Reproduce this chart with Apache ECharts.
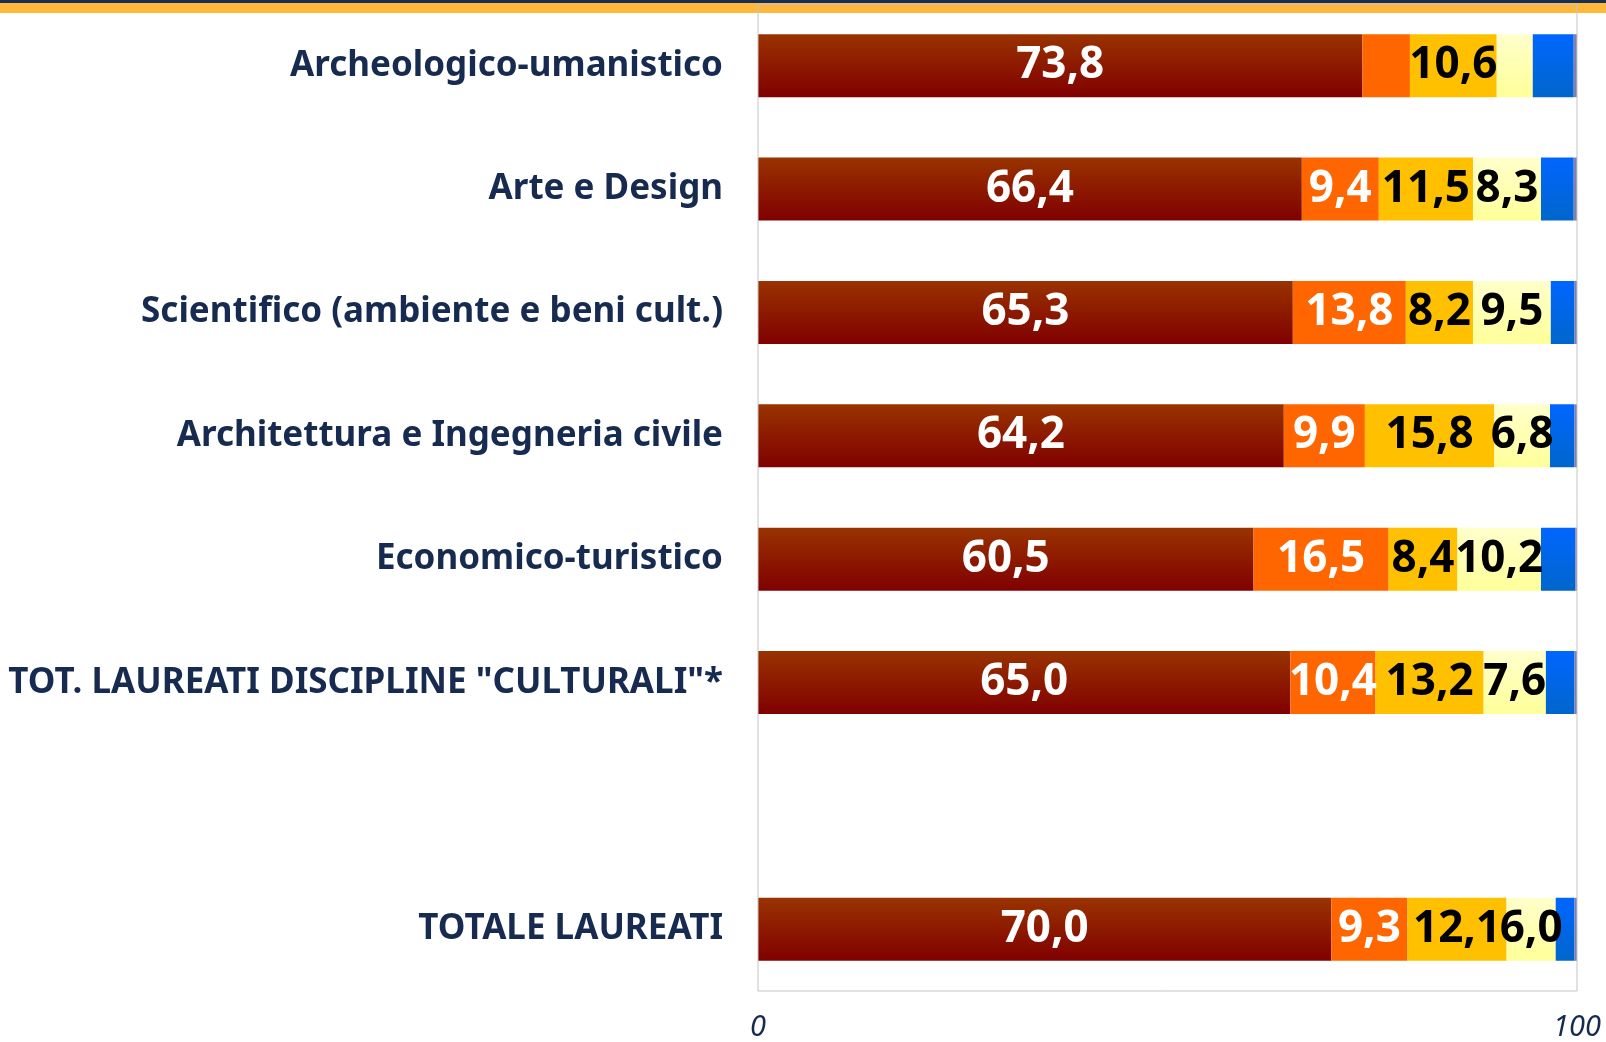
<!DOCTYPE html>
<html>
<head>
<meta charset="utf-8">
<script src="https://cdn.jsdelivr.net/npm/echarts@6/dist/echarts.min.js"></script>
<style>
html,body{margin:0;padding:0;background:#fff;}
#chart{width:1606px;height:1042px;}
</style>
</head>
<body>
<div id="chart"></div>
<script>
var categories = ['Archeologico-umanistico', 'Arte e Design', 'Scientifico (ambiente e beni cult.)',
	'Architettura e Ingegneria civile', 'Economico-turistico', 'TOT. LAUREATI DISCIPLINE "CULTURALI"*',
	'', 'TOTALE LAUREATI'];
var serie_1 = [73.8, 66.4, 65.3, 64.2, 60.5, 65.0, null, 70.0];
var serie_2 = [5.8, 9.4, 13.8, 9.9, 16.5, 10.4, null, 9.3];
var serie_3 = [10.6, 11.5, 8.2, 15.8, 8.4, 13.2, null, 12.1];
var serie_4 = [4.4, 8.3, 9.5, 6.8, 10.2, 7.6, null, 6.0];
var serie_5 = [5.0, 4.0, 2.9, 3.0, 4.2, 3.5, null, 2.3];
var serie_6 = [0.4, 0.4, 0.3, 0.3, 0.2, 0.3, null, 0.3];
var xTicks = [0, 100];

var fontFam = '"Noto Sans", "DejaVu Sans", sans-serif';
var navy = '#172a4f';

function grad(c1, c2) {
	return new echarts.graphic.LinearGradient(0, 0, 0, 1, [
		{offset: 0, color: c1},
		{offset: 1, color: c2}
	]);
}

// in Excel le etichette piccole non compaiono
function labelFmt(p) {
	if (p.value == null || p.value < 6) return '';
	return p.value.toFixed(1).replace('.', ',');
}

function makeSerie(name, data, color, txtColor, showLabel) {
	return {
		name: name,
		type: 'bar',
		stack: 'tot',
		barWidth: 63,
		data: data,
		itemStyle: {color: color},
		label: {
			show: showLabel,
			position: 'inside',
			formatter: labelFmt,
			color: txtColor,
			fontFamily: fontFam,
			fontWeight: 'bold',
			fontSize: 44
		},
		emphasis: {disabled: true}
	};
}

var dom = document.getElementById('chart');
var myChart = echarts.init(dom);
var option = {
	backgroundColor: '#fff',
	animation: false,
	graphic: [
		{type: 'rect', shape: {x: 0, y: 0, width: 1606, height: 3}, style: {fill: '#1a2e50'}, z: 0},
		{type: 'rect', shape: {x: 0, y: 3, width: 1606, height: 10}, style: {fill: '#ffb83c'}, z: 0}
	],
	grid: {
		left: 758,
		right: 29,
		top: 4,
		bottom: 43,
		show: true,
		borderColor: '#c4c4c4',
		borderWidth: 1,
		backgroundColor: 'transparent',
		z: 5
	},
	xAxis: {
		type: 'value',
		min: xTicks[0],
		max: xTicks[1],
		interval: 100,
		axisLine: {show: false},
		axisTick: {show: false},
		splitLine: {show: false},
		axisLabel: {
			color: navy,
			fontFamily: fontFam,
			fontStyle: 'italic',
			fontSize: 29,
			margin: 22
		}
	},
	yAxis: {
		type: 'category',
		inverse: true,
		data: categories,
		axisLine: {show: false},
		axisTick: {show: false},
		axisLabel: {
			color: navy,
			fontFamily: fontFam,
			fontWeight: 'bold',
			fontSize: 35,
			margin: 35
		}
	},
	series: [
		makeSerie('serie 1', serie_1, grad('#993300', '#800000'), '#fff', true),
		makeSerie('serie 2', serie_2, '#ff6600', '#fff', true),
		makeSerie('serie 3', serie_3, '#ffc000', '#000', true),
		makeSerie('serie 4', serie_4, grad('#ffffcc', '#ffff99'), '#000', true),
		makeSerie('serie 5', serie_5, grad('#0066ff', '#0066cc'), '#000', false),
		makeSerie('serie 6', serie_6, '#7f7fb2', '#000', false)
	]
};
if (option && typeof option === "object") {
	myChart.setOption(option, true);
}
</script>
</body>
</html>
